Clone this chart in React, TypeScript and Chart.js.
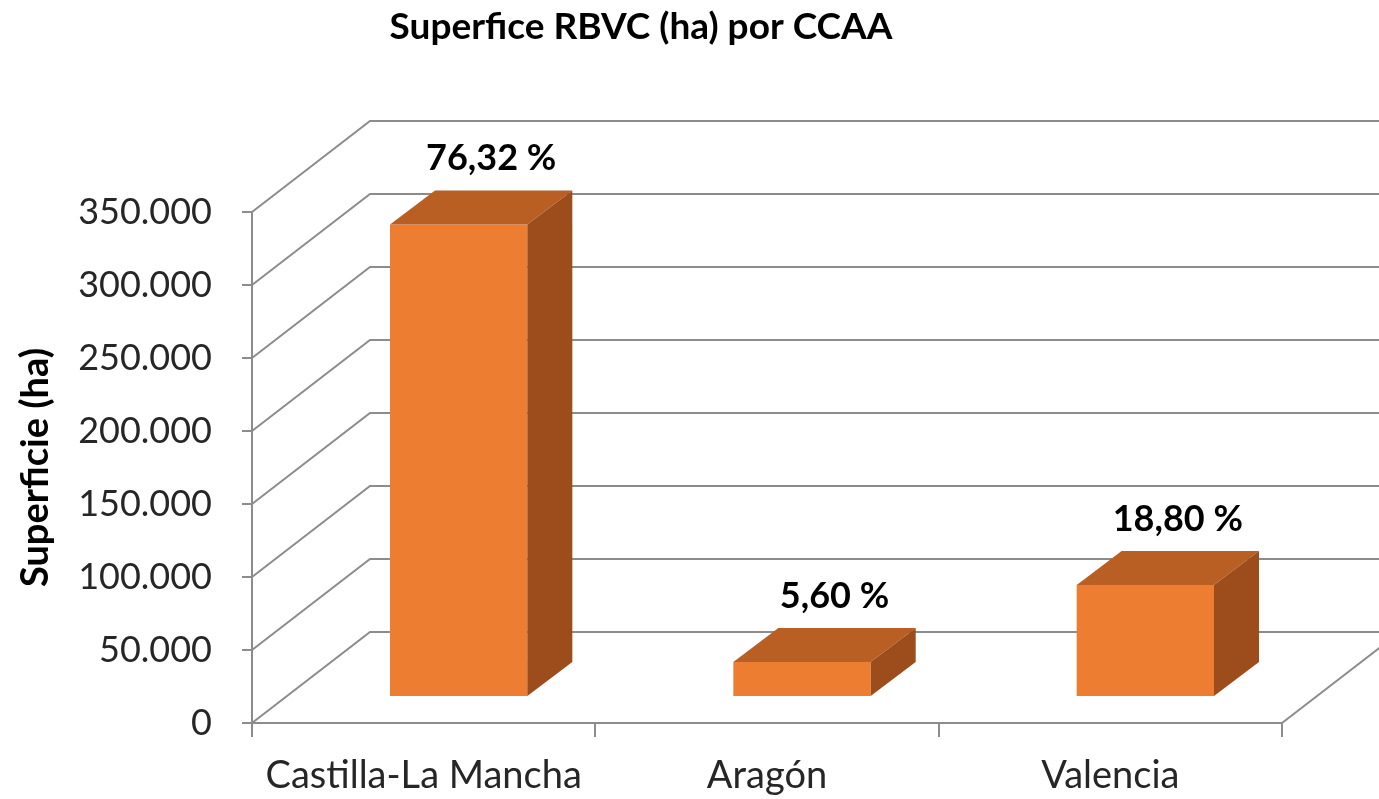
import React, { useEffect, useRef } from 'react';
import { Chart, registerables } from 'chart.js';

Chart.register(...registerables);

// ---------- data ----------
const chartTitle = 'Superfice RBVC (ha) por CCAA';
const yAxisTitle = 'Superficie (ha)';
const categories = ['Castilla-La Mancha', 'Aragón', 'Valencia'];
const superficie = [323600, 24000, 76700];
const percentLabels = ['76,32 %', '5,60 %', '18,80 %'];
const yMin = 0;
const yMax = 350000;
const yStep = 50000;

// ---------- style constants ----------
const FONT = 'Lato';
const GRID = '#8c8c8c';
const FRONT = '#ED7D31';
const TOP = '#BA5F24';
const SIDE = '#9C4D1B';
const WALL = { dx: 118, dy: -91 };
const BAR_OFF = { dx: 35, dy: -26 };
const BAR_DEPTH = { dx: 45, dy: -34 };

const fmt = (v: number) => String(v).replace(/\B(?=(\d{3})+(?!\d))/g, '.');

const threeD = {
  id: 'threeD',
  beforeDatasetsDraw(chart: any) {
    const { ctx, chartArea, scales } = chart;
    const y = scales.y;
    ctx.save();
    ctx.strokeStyle = GRID;
    ctx.lineWidth = 2;
    y.ticks.forEach((t: any) => {
      const py = y.getPixelForValue(t.value);
      ctx.beginPath();
      ctx.moveTo(chartArea.left, py);
      ctx.lineTo(chartArea.left + WALL.dx, py + WALL.dy);
      ctx.lineTo(chart.width + 300, py + WALL.dy);
      ctx.stroke();
    });
    ctx.beginPath();
    ctx.moveTo(chartArea.right, chartArea.bottom);
    ctx.lineTo(chartArea.right + WALL.dx, chartArea.bottom + WALL.dy);
    ctx.stroke();
    // title
    ctx.fillStyle = '#000';
    ctx.font = `bold 37px ${FONT}`;
    ctx.textAlign = 'center';
    ctx.textBaseline = 'middle';
    ctx.fillText(chartTitle, 641, 27);
    ctx.restore();
  },
  afterDatasetsDraw(chart: any) {
    const { ctx } = chart;
    const meta = chart.getDatasetMeta(0);
    ctx.save();
    meta.data.forEach((el: any, i: number) => {
      const { x, y, base, width } = el.getProps(['x', 'y', 'base', 'width'], true);
      const l = x - width / 2 + BAR_OFF.dx;
      const r = x + width / 2 + BAR_OFF.dx;
      const t = y + BAR_OFF.dy;
      const b = base + BAR_OFF.dy;
      // front
      ctx.fillStyle = FRONT;
      ctx.fillRect(l, t, r - l, b - t);
      // top
      ctx.fillStyle = TOP;
      ctx.beginPath();
      ctx.moveTo(l, t);
      ctx.lineTo(r, t);
      ctx.lineTo(r + BAR_DEPTH.dx, t + BAR_DEPTH.dy);
      ctx.lineTo(l + BAR_DEPTH.dx, t + BAR_DEPTH.dy);
      ctx.closePath();
      ctx.fill();
      // side
      ctx.fillStyle = SIDE;
      ctx.beginPath();
      ctx.moveTo(r, t);
      ctx.lineTo(r + BAR_DEPTH.dx, t + BAR_DEPTH.dy);
      ctx.lineTo(r + BAR_DEPTH.dx, b + BAR_DEPTH.dy);
      ctx.lineTo(r, b);
      ctx.closePath();
      ctx.fill();
      // label
      ctx.fillStyle = '#000';
      ctx.font = `bold 36px ${FONT}`;
      ctx.textAlign = 'center';
      ctx.textBaseline = 'middle';
      ctx.fillText(percentLabels[i], (l + r) / 2 + BAR_DEPTH.dx / 2 + 10, t + BAR_DEPTH.dy - 32);
    });
    ctx.restore();
  },
};

export default function App() {
  const ref = useRef<HTMLCanvasElement | null>(null);
  useEffect(() => {
    if (!ref.current) return;
    const chart = new Chart(ref.current, {
      type: 'bar',
      data: {
        labels: categories,
        datasets: [
          {
            label: 'Superficie (ha)',
            data: superficie,
            backgroundColor: 'rgba(0,0,0,0)',
            borderWidth: 0,
            categoryPercentage: 1,
            barPercentage: 0.4,
          },
        ],
      },
      plugins: [threeD],
      options: {
        responsive: false,
        animation: false,
        layout: { padding: { left: 0, right: 97, top: 212, bottom: 0 } },
        plugins: {
          legend: { display: false },
          title: { display: false },
          tooltip: { enabled: false },
        },
        scales: {
          x: {
            grid: {
              display: true,
              drawOnChartArea: false,
              drawTicks: true,
              tickLength: 14,
              color: GRID,
              lineWidth: 2,
              offset: true,
            },
            border: { display: true, color: GRID, width: 2 },
            ticks: {
              color: '#262626',
              font: { family: FONT, size: 38 },
              padding: 16,
              maxRotation: 0,
            },
            afterFit: (s: any) => {
              s.height = 76;
            },
          },
          y: {
            min: yMin,
            max: yMax,
            grid: {
              display: true,
              drawOnChartArea: false,
              drawTicks: true,
              tickLength: 10,
              color: GRID,
              lineWidth: 2,
            },
            border: { display: true, color: GRID, width: 2 },
            ticks: {
              stepSize: yStep,
              color: '#262626',
              font: { family: FONT, size: 36 },
              padding: 30,
              callback: (v: any) => fmt(Number(v)),
            },
            title: {
              display: true,
              text: yAxisTitle,
              color: '#000',
              font: { family: FONT, size: 38, weight: 'bold' },
              padding: { top: 13, bottom: 0 },
            },
            afterFit: (s: any) => {
              s.width = 252;
            },
          },
        },
      },
    });
    return () => chart.destroy();
  }, []);
  return (
    <div style={{ position: 'absolute', left: 0, top: 0, width: 1379, height: 799, background: '#fff' }}>
      <canvas ref={ref} width={1379} height={799} />
    </div>
  );
}
